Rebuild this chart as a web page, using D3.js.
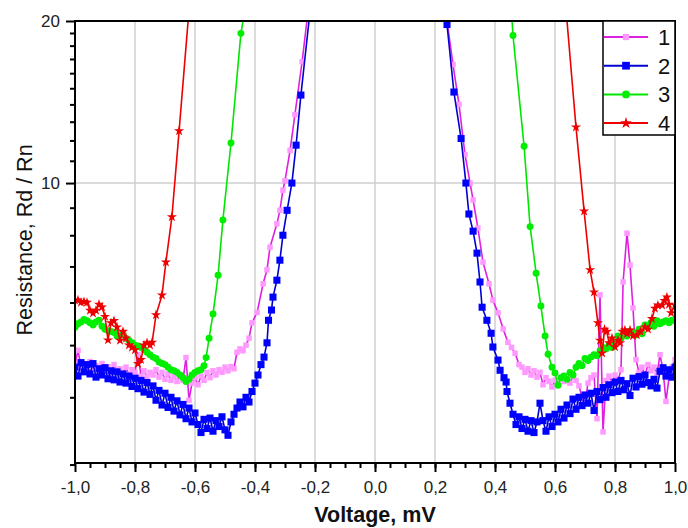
<!DOCTYPE html>
<html>
<head>
<meta charset="utf-8">
<script src="https://cdn.jsdelivr.net/npm/d3@7"></script>
<style>
  body { margin: 0; background: #fff; }
  svg { display: block; }
  text { font-family: Arial, "Liberation Sans", sans-serif; }
</style>
</head>
<body>
<svg id="chart" width="688" height="528"></svg>
<script>
// tick labels
const xTicks = [-1, -0.8, -0.6, -0.4, -0.2, 0, 0.2, 0.4, 0.6, 0.8, 1]
const yTicks = [10, 20]
const legendLabels = ['1', '2', '3', '4']

// [voltage mV, Rd/Rn]; null marks the gap above the plot top
const series1 = [
  [-1.00,4.60],[-0.99,4.89],[-0.98,4.55],[-0.97,4.62],[-0.96,4.50],[-0.95,4.66],[-0.94,4.52],[-0.93,4.58],[-0.92,4.48],[-0.91,4.62],
  [-0.90,4.50],[-0.89,4.56],[-0.88,4.45],[-0.87,4.60],[-0.86,4.48],[-0.85,4.52],[-0.84,4.42],[-0.83,4.55],[-0.82,4.40],[-0.81,4.50],
  [-0.80,4.45],[-0.79,4.80],[-0.78,4.38],[-0.77,4.48],[-0.76,4.36],[-0.75,4.45],[-0.74,4.40],[-0.73,4.50],[-0.72,4.36],[-0.71,4.45],
  [-0.70,4.32],[-0.69,4.42],[-0.68,4.30],[-0.67,4.38],[-0.66,4.28],[-0.65,4.40],[-0.64,4.30],[-0.63,4.74],[-0.62,3.95],[-0.61,4.25],
  [-0.60,4.35],[-0.59,4.22],[-0.58,4.38],[-0.57,4.30],[-0.56,4.45],[-0.55,4.35],[-0.54,4.48],[-0.53,4.40],[-0.52,4.50],[-0.51,4.45],
  [-0.50,4.55],[-0.49,4.48],[-0.48,4.56],[-0.47,4.52],[-0.46,4.85],[-0.45,4.92],[-0.44,4.88],[-0.43,5.00],[-0.42,5.15],[-0.41,5.50],
  [-0.393,5.75],[-0.373,6.50],[-0.36,6.90],[-0.35,7.60],[-0.327,8.40],[-0.317,8.90],[-0.307,9.70],[-0.30,10.1],[-0.283,11.5],
  [-0.267,13.4],[-0.243,16.8],[-0.227,20],
  [0,null],
  [0.24,20],[0.26,16.6],[0.28,14.0],[0.30,11.3],[0.317,10.0],[0.327,9.3],[0.343,8.25],[0.36,7.13],[0.38,6.50],[0.393,6.06],
  [0.41,5.74],[0.427,5.36],[0.443,5.06],[0.455,4.95],[0.467,4.83],[0.48,4.60],[0.49,4.55],[0.50,4.45],[0.51,4.52],[0.52,4.40],
  [0.53,4.48],[0.54,4.36],[0.55,4.45],[0.56,4.22],[0.57,4.35],[0.58,4.28],[0.59,4.18],[0.60,4.30],[0.61,4.22],[0.62,4.35],
  [0.63,4.28],[0.64,4.32],[0.65,4.25],[0.66,4.38],[0.67,4.30],[0.68,4.20],[0.69,4.00],[0.70,3.90],[0.71,4.25],[0.72,4.35],
  [0.73,4.40],[0.74,3.65],[0.75,6.20],[0.76,3.45],[0.77,4.30],[0.78,4.38],[0.79,4.25],[0.80,4.40],[0.81,4.30],[0.82,4.50],
  [0.827,6.55],[0.84,8.07],[0.85,7.04],[0.86,5.86],[0.87,4.70],[0.88,4.45],[0.89,4.55],[0.90,4.40],[0.91,4.60],[0.92,4.48],
  [0.93,4.55],[0.94,4.42],[0.95,4.80],[0.96,4.50],[0.97,3.93],[0.98,4.35],[0.99,4.55],[1.00,4.70]
]

const series2 = [
  [-1.00,4.55],[-0.99,4.38],[-0.98,4.64],[-0.97,4.46],[-0.96,4.60],[-0.95,4.42],[-0.94,4.62],[-0.93,4.36],[-0.92,4.52],[-0.91,4.40],
  [-0.90,4.54],[-0.89,4.33],[-0.88,4.48],[-0.87,4.31],[-0.86,4.46],[-0.85,4.27],[-0.84,4.42],[-0.83,4.25],[-0.82,4.38],[-0.81,4.19],
  [-0.80,4.34],[-0.79,4.15],[-0.78,4.30],[-0.77,4.09],[-0.76,4.26],[-0.75,4.05],[-0.74,4.20],[-0.73,3.95],[-0.72,4.12],[-0.71,3.87],
  [-0.70,4.07],[-0.69,3.83],[-0.68,4.00],[-0.67,3.77],[-0.66,3.94],[-0.65,3.71],[-0.64,3.88],[-0.63,3.65],[-0.62,3.82],[-0.61,3.60],
  [-0.60,3.74],[-0.59,3.56],[-0.58,3.44],[-0.57,3.64],[-0.56,3.50],[-0.55,3.66],[-0.54,3.46],[-0.53,3.62],[-0.52,3.53],[-0.51,3.68],
  [-0.50,3.48],[-0.49,3.40],[-0.48,3.60],[-0.47,3.72],[-0.46,3.82],[-0.45,3.92],[-0.44,3.84],[-0.43,4.00],[-0.42,3.92],[-0.41,4.10],
  [-0.40,4.25],[-0.39,4.40],[-0.38,4.60],[-0.37,4.75],[-0.36,5.05],[-0.355,5.56],[-0.345,5.81],[-0.34,6.14],[-0.327,6.60],
  [-0.317,7.19],[-0.307,8.00],[-0.293,8.90],[-0.277,10.0],[-0.263,11.76],[-0.247,14.57],[-0.22,20],
  [0,null],
  [0.237,20],[0.24,19.7],[0.263,14.76],[0.287,12.1],[0.303,10.0],[0.313,8.76],[0.327,8.14],[0.34,7.41],[0.35,6.55],[0.357,5.88],
  [0.373,5.56],[0.387,5.26],[0.393,4.96],[0.41,4.69],[0.417,4.49],[0.43,4.35],[0.437,4.27],[0.44,4.10],[0.45,3.90],[0.46,3.72],
  [0.47,3.56],[0.48,3.68],[0.49,3.50],[0.50,3.64],[0.51,3.46],[0.52,3.62],[0.53,3.44],[0.54,3.60],[0.55,3.90],[0.56,3.62],
  [0.57,3.46],[0.58,3.68],[0.59,3.53],[0.60,3.72],[0.61,3.60],[0.62,3.80],[0.63,3.66],[0.64,3.87],[0.65,3.73],[0.66,3.97],
  [0.67,3.80],[0.68,4.00],[0.69,3.86],[0.70,4.04],[0.71,3.90],[0.72,4.07],[0.73,3.78],[0.74,4.10],[0.75,3.96],[0.76,4.17],
  [0.77,4.00],[0.78,4.22],[0.79,4.08],[0.80,4.27],[0.81,4.10],[0.82,4.30],[0.83,4.13],[0.84,4.24],[0.85,4.03],[0.86,4.34],
  [0.87,4.18],[0.88,4.37],[0.89,4.23],[0.90,4.40],[0.91,4.26],[0.92,4.20],[0.93,4.32],[0.94,4.16],[0.95,4.47],[0.96,4.54],
  [0.97,4.38],[0.98,4.50],[0.99,4.36],[1.00,4.55]
]

const series3 = [
  [-1.00,5.40],[-0.99,5.48],[-0.98,5.52],[-0.97,5.58],[-0.96,5.55],[-0.95,5.50],[-0.94,5.45],[-0.93,5.52],[-0.92,5.56],[-0.91,5.42],
  [-0.90,5.35],[-0.89,5.32],[-0.88,5.30],[-0.87,5.28],[-0.86,5.20],[-0.85,5.22],[-0.84,5.25],[-0.83,5.15],[-0.82,5.10],[-0.81,5.05],
  [-0.80,5.00],[-0.79,4.98],[-0.78,4.95],[-0.77,4.90],[-0.76,4.85],[-0.75,4.80],[-0.74,4.75],[-0.73,4.72],[-0.72,4.65],[-0.71,4.62],
  [-0.70,4.60],[-0.69,4.55],[-0.68,4.50],[-0.67,4.48],[-0.66,4.45],[-0.65,4.40],[-0.64,4.35],[-0.63,4.28],[-0.62,4.32],[-0.61,4.40],
  [-0.60,4.45],[-0.59,4.48],[-0.58,4.50],[-0.57,4.58],[-0.563,4.74],[-0.553,5.15],[-0.54,5.71],[-0.523,6.74],[-0.507,8.54],
  [-0.48,11.87],[-0.447,18.97],[-0.44,20],
  [0,null],
  [0.457,20],[0.46,18.8],[0.497,11.7],[0.517,8.3],[0.537,6.8],[0.553,5.91],[0.567,5.2],[0.577,4.81],[0.59,4.55],[0.60,4.44],
  [0.61,4.21],[0.62,4.35],[0.63,4.38],[0.64,4.32],[0.65,4.45],[0.66,4.40],[0.67,4.55],[0.68,4.62],[0.69,4.58],[0.70,4.72],
  [0.71,4.68],[0.72,4.75],[0.73,4.80],[0.74,4.78],[0.75,4.88],[0.76,4.95],[0.77,4.92],[0.78,5.00],[0.79,4.95],[0.80,5.05],
  [0.81,5.20],[0.82,5.15],[0.83,5.25],[0.84,5.20],[0.85,5.30],[0.86,5.28],[0.87,5.22],[0.88,5.35],[0.89,5.25],[0.90,5.45],
  [0.91,5.40],[0.92,5.50],[0.93,5.42],[0.94,5.55],[0.95,5.48],[0.96,5.52],[0.97,5.55],[0.98,5.50],[0.99,5.56],[1.00,5.56]
]

const series4 = [
  [-1.00,6.06],[-0.99,6.06],[-0.98,6.00],[-0.97,6.02],[-0.96,6.00],[-0.95,5.80],[-0.94,5.73],[-0.93,5.80],[-0.92,5.95],[-0.91,5.88],
  [-0.90,5.65],[-0.89,5.11],[-0.88,5.50],[-0.87,5.55],[-0.86,5.40],[-0.85,5.10],[-0.84,5.30],[-0.83,5.15],[-0.82,5.00],[-0.81,4.95],
  [-0.80,4.90],[-0.79,4.62],[-0.78,4.70],[-0.77,5.00],[-0.76,5.05],[-0.75,5.00],[-0.743,5.06],[-0.73,5.69],[-0.71,6.19],
  [-0.697,7.13],[-0.677,8.65],[-0.653,12.5],[-0.623,20],
  [0,null],
  [0.64,20],[0.67,12.7],[0.697,8.87],[0.717,6.9],[0.73,6.27],[0.743,5.5],[0.75,5.1],[0.757,4.83],[0.765,5.35],[0.773,5.3],
  [0.78,5.05],[0.79,5.15],[0.80,4.96],[0.81,5.10],[0.817,5.05],[0.825,5.30],[0.833,5.33],[0.84,5.25],[0.85,5.33],[0.86,5.20],
  [0.873,5.22],[0.885,5.30],[0.90,5.40],[0.91,5.35],[0.923,5.60],[0.933,5.85],[0.943,5.93],[0.957,5.93],[0.965,6.05],
  [0.973,6.14],[0.98,5.95],[0.987,5.74],[1.00,5.93]
]

const series = [
  { name: legendLabels[0], data: series1, line: '#e020e0', fill: '#ff99ff', symbol: d3.symbolSquare, size: 30 },
  { name: legendLabels[1], data: series2, line: '#0000d0', fill: '#0000ff', symbol: d3.symbolSquare, size: 50 },
  { name: legendLabels[2], data: series3, line: '#00e600', fill: '#00ee00', symbol: d3.symbolCircle, size: 38 },
  { name: legendLabels[3], data: series4, line: '#ee0000', fill: '#ee0000', symbol: d3.symbolStar, size: 32 }
]

const plotLeft = 75, plotRight = 675, plotTop = 21, plotBottom = 463

const svg = d3.select('#chart')

const x = d3.scaleLinear().domain([-1, 1]).range([plotLeft, plotRight])
const y = d3.scaleLog().domain([3.02, 20]).range([plotBottom, plotTop])

const fmtX = v => v.toFixed(1).replace('.', ',')

svg.append('defs').append('clipPath')
  .attr('id', 'plot-clip')
  .append('rect')
  .attr('x', plotLeft)
  .attr('y', plotTop)
  .attr('width', plotRight - plotLeft)
  .attr('height', plotBottom - plotTop)

// grid
const grid = svg.append('g')
grid.selectAll('.vgrid')
  .data(xTicks.filter(v => v > -1 && v < 1))
  .enter().append('line')
  .attr('x1', d => x(d))
  .attr('x2', d => x(d))
  .attr('y1', plotTop)
  .attr('y2', plotBottom)
  .attr('stroke', '#cfcfcf')
  .attr('stroke-width', 1.5)

grid.selectAll('.hgrid')
  .data(yTicks.filter(v => v < 20))
  .enter().append('line')
  .attr('x1', plotLeft)
  .attr('x2', plotRight)
  .attr('y1', d => y(d))
  .attr('y2', d => y(d))
  .attr('stroke', '#cfcfcf')
  .attr('stroke-width', 1.5)

// series
const plot = svg.append('g').attr('clip-path', 'url(#plot-clip)')

const line = d3.line()
  .defined(d => d[1] != null)
  .x(d => x(d[0]))
  .y(d => y(d[1]))

series.forEach(s => {
  plot.append('path')
    .datum(s.data)
    .attr('fill', 'none')
    .attr('stroke', s.line)
    .attr('stroke-width', 1.6)
    .attr('stroke-linejoin', 'round')
    .attr('d', line)

  plot.selectAll(null)
    .data(s.data.filter(d => d[1] != null && d[1] < 20))
    .enter().append('path')
    .attr('d', d3.symbol().type(s.symbol).size(s.size))
    .attr('transform', d => `translate(${x(d[0])},${y(d[1])})`)
    .attr('fill', s.fill)
})

// axes
const xAxis = svg.append('g')
  .attr('transform', `translate(0,${plotBottom})`)
  .call(d3.axisBottom(x).tickValues(xTicks).tickSize(9).tickPadding(9).tickFormat(fmtX))
xAxis.select('.domain').remove()
xAxis.selectAll('line').attr('stroke', '#000').attr('stroke-width', 2)
xAxis.selectAll('text').attr('font-size', 17).attr('fill', '#222').attr('font-family', 'Arial, "Liberation Sans", sans-serif')

const xMinor = svg.append('g')
  .attr('transform', `translate(0,${plotBottom})`)
  .call(d3.axisBottom(x).tickValues(d3.range(-0.95, 1, 0.05)).tickSize(5).tickFormat(''))
xMinor.select('.domain').remove()
xMinor.selectAll('line').attr('stroke', '#000').attr('stroke-width', 2)

const yAxis = svg.append('g')
  .attr('transform', `translate(${plotLeft},0)`)
  .call(d3.axisLeft(y).tickValues(yTicks).tickSize(9).tickPadding(6).tickFormat(d3.format('d')))
yAxis.select('.domain').remove()
yAxis.selectAll('line').attr('stroke', '#000').attr('stroke-width', 2)
yAxis.selectAll('text').attr('font-size', 17).attr('fill', '#222').attr('font-family', 'Arial, "Liberation Sans", sans-serif')

const yMinor = svg.append('g')
  .attr('transform', `translate(${plotLeft},0)`)
  .call(d3.axisLeft(y).tickValues(d3.range(3, 20).filter(v => v !== 10)).tickSize(5).tickFormat(''))
yMinor.select('.domain').remove()
yMinor.selectAll('line').attr('stroke', '#000').attr('stroke-width', 2)

// frame
svg.append('rect')
  .attr('x', plotLeft)
  .attr('y', plotTop)
  .attr('width', plotRight - plotLeft)
  .attr('height', plotBottom - plotTop)
  .attr('fill', 'none')
  .attr('stroke', '#000')
  .attr('stroke-width', 2)

// axis titles
svg.append('text')
  .attr('x', (plotLeft + plotRight) / 2)
  .attr('y', 522)
  .attr('text-anchor', 'middle')
  .attr('font-size', 21.5)
  .attr('font-weight', 'bold')
  .attr('fill', '#111')
  .text('Voltage, mV')

svg.append('text')
  .attr('transform', 'translate(32,240) rotate(-90)')
  .attr('text-anchor', 'middle')
  .attr('font-size', 21.5)
  .attr('fill', '#111')
  .text('Resistance, Rd / Rn')

// legend
const legend = svg.append('g')
legend.append('rect')
  .attr('x', 603)
  .attr('y', plotTop)
  .attr('width', plotRight - 603)
  .attr('height', 114)
  .attr('fill', '#fff')
  .attr('stroke', '#000')
  .attr('stroke-width', 1.5)

series.forEach((s, i) => {
  const ly = 37 + i * 28.7
  legend.append('line')
    .attr('x1', 604)
    .attr('x2', 648)
    .attr('y1', ly)
    .attr('y2', ly)
    .attr('stroke', s.line)
    .attr('stroke-width', 2)
  legend.append('path')
    .attr('d', d3.symbol().type(s.symbol).size(s.size + 10))
    .attr('transform', `translate(626,${ly})`)
    .attr('fill', s.fill)
  legend.append('text')
    .attr('x', 658)
    .attr('y', ly + 8)
    .attr('font-size', 22)
    .attr('fill', '#111')
    .text(s.name)
})
</script>
</body>
</html>
